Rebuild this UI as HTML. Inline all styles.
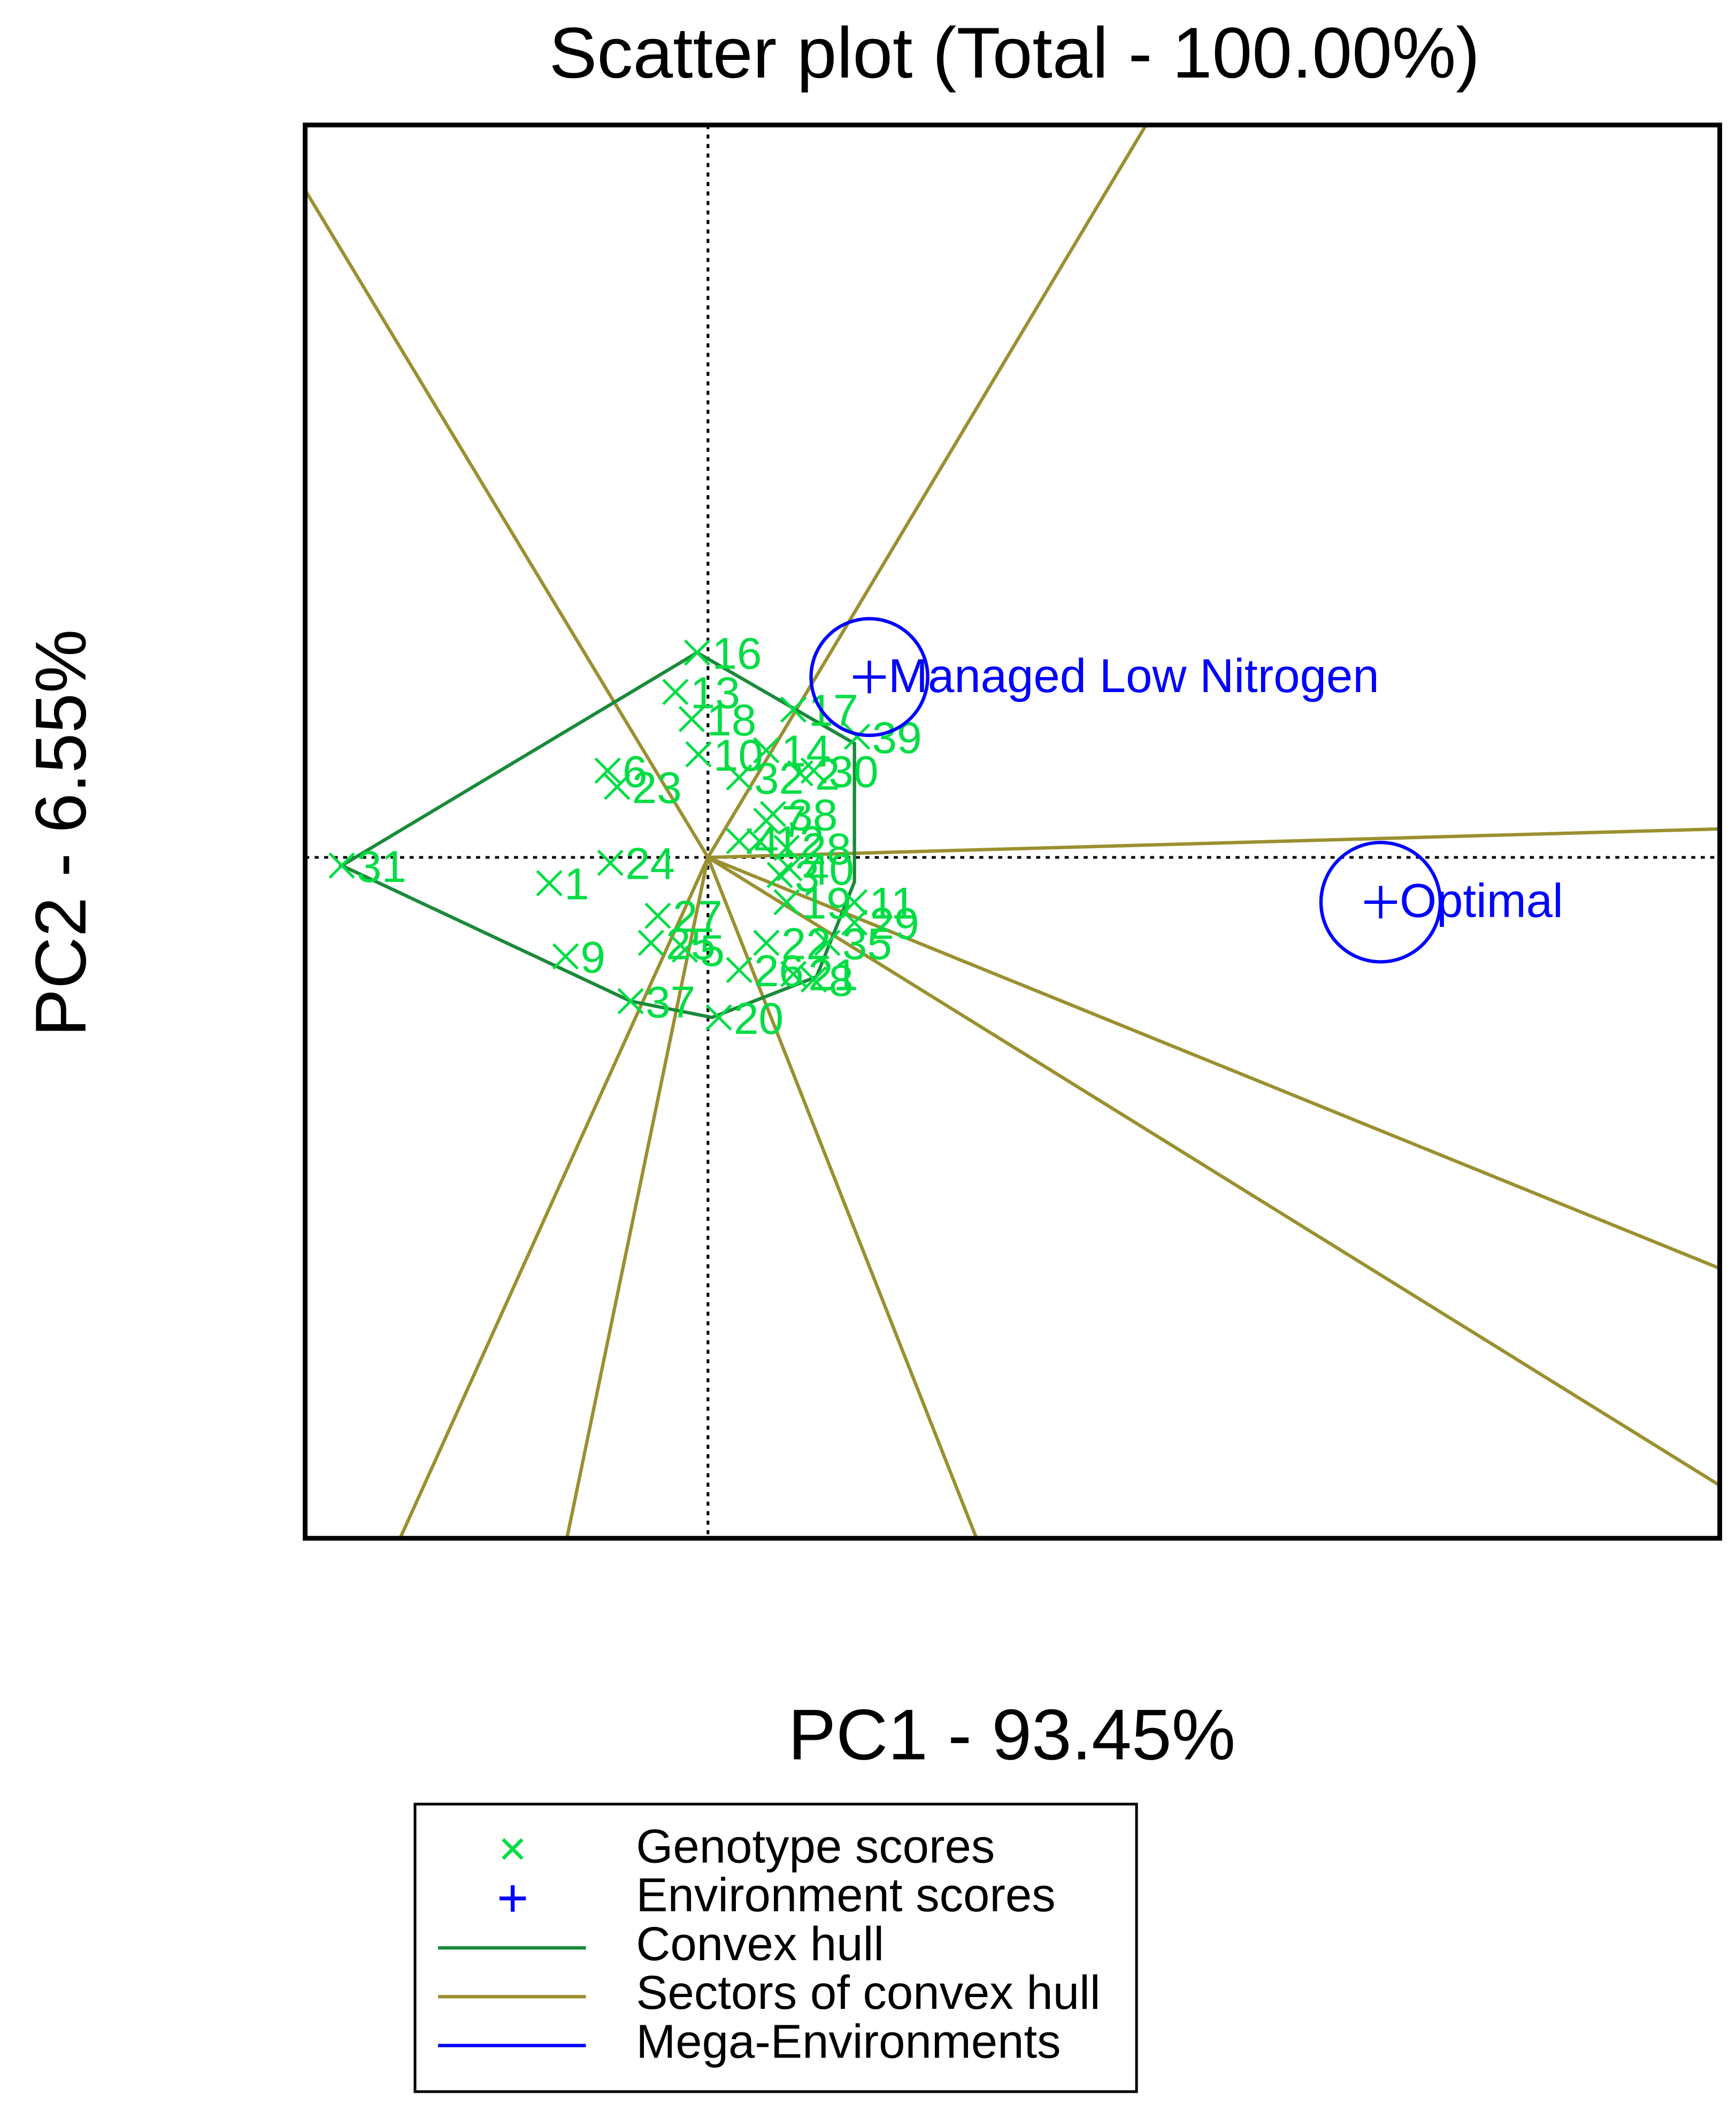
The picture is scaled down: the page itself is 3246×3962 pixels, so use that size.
<!DOCTYPE html>
<html><head><meta charset="utf-8"><style>
html,body{margin:0;padding:0;background:#fff;}
svg{display:block;font-family:"Liberation Sans",Arial,sans-serif;}
</style></head><body>
<svg id="chart" width="3246" height="3962" viewBox="0 0 1280 1562" xmlns="http://www.w3.org/2000/svg">
<rect width="1280" height="1562" fill="#fff"/>
<text x="748" y="57" font-size="53" text-anchor="middle" fill="#000">Scatter plot (Total - 100.00%)</text>
<text x="746" y="1297" font-size="53" text-anchor="middle" fill="#000">PC1 - 93.45%</text>
<text transform="translate(63,614) rotate(-90)" font-size="53" text-anchor="middle" fill="#000">PC2 - 6.55%</text>
<defs><clipPath id="plotclip"><rect x="225" y="92" width="1043" height="1042"/></clipPath></defs>
<g id="plot" clip-path="url(#plotclip)"></g>
<rect x="225" y="92" width="1043" height="1042" fill="none" stroke="#000" stroke-width="3.5"/>
<g>
<rect x="306" y="1330" width="532" height="212" fill="#fff" stroke="#000" stroke-width="2"/>
<text x="378" y="1375" font-size="36" fill="#00dd44" text-anchor="middle">×</text>
<text x="469" y="1373" font-size="35" fill="#000">Genotype scores</text>
<text x="378" y="1413" font-size="40" fill="#0000ff" text-anchor="middle">+</text>
<text x="469" y="1409" font-size="35" fill="#000">Environment scores</text>
<line x1="323" y1="1436" x2="432" y2="1436" stroke="#1a8a3a" stroke-width="2.5"/>
<text x="469" y="1445" font-size="35" fill="#000">Convex hull</text>
<line x1="323" y1="1472" x2="432" y2="1472" stroke="#9a9030" stroke-width="2.5"/>
<text x="469" y="1481" font-size="35" fill="#000">Sectors of convex hull</text>
<line x1="323" y1="1508" x2="432" y2="1508" stroke="#0000ff" stroke-width="2.5"/>
<text x="469" y="1517" font-size="35" fill="#000">Mega-Environments</text>
</g>
</svg>
<script>
// data (PC1, PC2 scores)
const genoLabels = ["16","13","18","17","10","14","32","2","30","39","6","23","31","1","24","9","37","20","27","25","5","22","26","21","8","35","29","11","19","40","3","28","12","7","38","4"];
const genoPC1 = [-0.08,-0.24,-0.12,0.63,-0.07,0.43,0.23,0.68,0.78,1.10,-0.74,-0.67,-2.70,-1.17,-0.72,-1.05,-0.57,0.08,-0.37,-0.42,-0.17,0.43,0.23,0.63,0.78,0.88,1.08,1.08,0.58,0.60,0.53,0.58,0.38,0.43,0.48,0.23];
const genoPC2 = [1.51,1.22,1.02,1.09,0.76,0.79,0.59,0.62,0.64,0.89,0.64,0.52,-0.06,-0.19,-0.04,-0.73,-1.06,-1.18,-0.43,-0.63,-0.68,-0.63,-0.83,-0.86,-0.90,-0.63,-0.48,-0.33,-0.33,-0.08,-0.13,0.07,0.12,0.27,0.32,0.12];
const hullLabels = ["16","39","11","8","20","37","31"];
const hullPC1 = [-0.08,1.08,1.08,0.80,0.03,-0.57,-2.70];
const hullPC2 = [1.51,0.84,-0.18,-0.88,-1.18,-1.06,-0.06];
const sectorEndPC1 = [3.23,7.46,7.46,7.46,1.98,-1.04,-2.27,-2.97];
const sectorEndPC2 = [5.40,0.21,-3.03,-4.63,-5.02,-5.02,-5.02,4.92];
const envLabels = ["Managed Low Nitrogen","Optimal"];
const envPC1 = [1.19,4.96];
const envPC2 = [1.33,-0.33];
const envRadius = [0.43,0.44];

const X0=522, Y0=632, U=100;
const sx=v=>X0+v*U, sy=v=>Y0-v*U;
const NS="http://www.w3.org/2000/svg";
const g=document.getElementById('plot');
function mk(tag,attrs,parent){const e=document.createElementNS(NS,tag);for(const k in attrs)e.setAttribute(k,attrs[k]);(parent||g).appendChild(e);return e;}

let e;
e=mk('line',{x1:sx(0),y1:92,x2:sx(0),y2:1134,stroke:'#000','stroke-width':2,'stroke-dasharray':'3,4'});


e=mk('line',{x1:225,y1:sy(0),x2:1268,y2:sy(0),stroke:'#000','stroke-width':2,'stroke-dasharray':'3,4'});



for(let i=0;i<sectorEndPC1.length;i++){
  e=mk('line',{x1:sx(0),y1:sy(0),x2:sx(sectorEndPC1[i]),y2:sy(sectorEndPC2[i]),stroke:'#9a9030','stroke-width':2.5});
  
  
}
e=mk('polygon',{points:hullPC1.map((v,i)=>sx(v)+','+sy(hullPC2[i])).join(' '),fill:'none',stroke:'#1a8a3a','stroke-width':2.5});



for(let i=0;i<genoLabels.length;i++){
  const x=sx(genoPC1[i]), y=sy(genoPC2[i]);
  const gg=mk('g',{});
  
  
  mk('path',{d:`M${x-9},${y-9}L${x+9},${y+9}M${x-9},${y+9}L${x+9},${y-9}`,stroke:'#00dd44','stroke-width':2},gg);
  const t=mk('text',{x:x+11,y:y+12,'font-size':33,fill:'#00dd44'},gg);
  t.textContent=genoLabels[i];
}
for(let i=0;i<envLabels.length;i++){
  const x=sx(envPC1[i]), y=sy(envPC2[i]);
  const gg=mk('g',{});
  
  
  mk('circle',{cx:x,cy:y,r:envRadius[i]*U,fill:'none',stroke:'#0000ff','stroke-width':2.5},gg);
  mk('path',{d:`M${x-12},${y}L${x+12},${y}M${x},${y-12}L${x},${y+12}`,stroke:'#0000ff','stroke-width':2.5},gg);
  const t=mk('text',{x:x+14,y:y+11,'font-size':35,fill:'#0000ff'},gg);
  t.textContent=envLabels[i];
}
</script>
</body></html>
